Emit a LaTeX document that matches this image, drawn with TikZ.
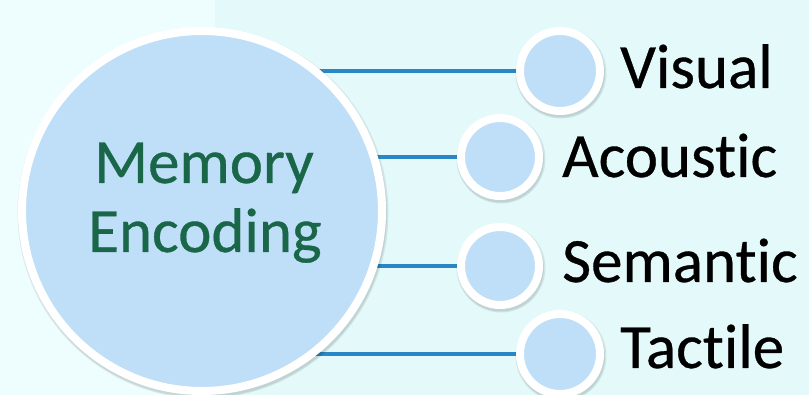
\documentclass[tikz,border=0pt]{standalone}
\usepackage{fontspec}
\setmainfont{Carlito}[RawFeature={-liga;-clig;-calt;-dlig}, FakeBold=0.5]
\usetikzlibrary{calc}
\definecolor{panelL}{HTML}{EEFDFD}
\definecolor{panelR}{HTML}{E3F9FA}
\definecolor{bubble}{HTML}{BFDEF8}
\definecolor{link}{HTML}{2A86C4}
\definecolor{title}{HTML}{1A6649}
\pgfdeclarelayer{bg}
\pgfdeclarelayer{links}
\pgfsetlayers{bg,links,main}
\tikzset{
  bigdisc/.style={circle, fill=bubble, draw=white, line width=8pt,
    minimum size=360pt, inner sep=0pt},
  dot/.style={circle, fill=bubble, draw=white, line width=8pt,
    minimum size=80pt, inner sep=0pt},
  conn/.style={draw=link, line width=4.5pt},
  titletext/.style={font=\fontsize{63}{69}\selectfont, text=title, inner sep=0pt, anchor=base},
  itemtext/.style={font=\fontsize{63}{69}\selectfont, text=black, inner sep=0pt, anchor=base west},
  softshadow/.style={fill=black, opacity=0.08}
}
\begin{document}
\begin{tikzpicture}[x=1pt,y=1pt]
  % backdrop panels
  \begin{pgfonlayer}{bg}
    \fill[panelR] (0,0) rectangle (809,395);
    \fill[panelL] (0,0) rectangle (215,395);
  \end{pgfonlayer}
  \useasboundingbox (0,0) rectangle (809,395);

  % soft shadows under the discs
  \foreach \x/\y/\r in {202/184/184, 560/324/44, 500/238/43, 500/129/43, 560/41/44}{
    \fill[softshadow] (\x+1,\y-2) circle (\r+1.5);
    \fill[softshadow] (\x+1,\y-2.5) circle (\r);
  }

  % central disc and its title
  \node[bigdisc] (mem) at (202,184) {};
  \node[titletext] (memA) at (204,212) {Memory};
  \node[titletext] (memB) at (205,143) {Encoding};

  % branch discs
  \node[dot] (vis) at (560,324) {};
  \node[dot, minimum size=78pt] (aco) at (500,238) {};
  \node[dot, minimum size=78pt] (sem) at (500,129) {};
  \node[dot] (tac) at (560,41) {};

  % branch labels
  \node[itemtext] (visT) at (620,307) {Visual};
  \node[itemtext] (acoT) at (562,218) {Acoustic};
  \node[itemtext] (semT) at (562,113) {Semantic};
  \node[itemtext] (tacT) at (620,27) {Tactile};

  % connectors from the central disc to each branch
  \begin{pgfonlayer}{links}
    \foreach \n in {vis,aco,sem,tac}{
      \draw[conn] (mem.center |- \n.center) -- (\n.center);
    }
  \end{pgfonlayer}
\end{tikzpicture}
\end{document}
